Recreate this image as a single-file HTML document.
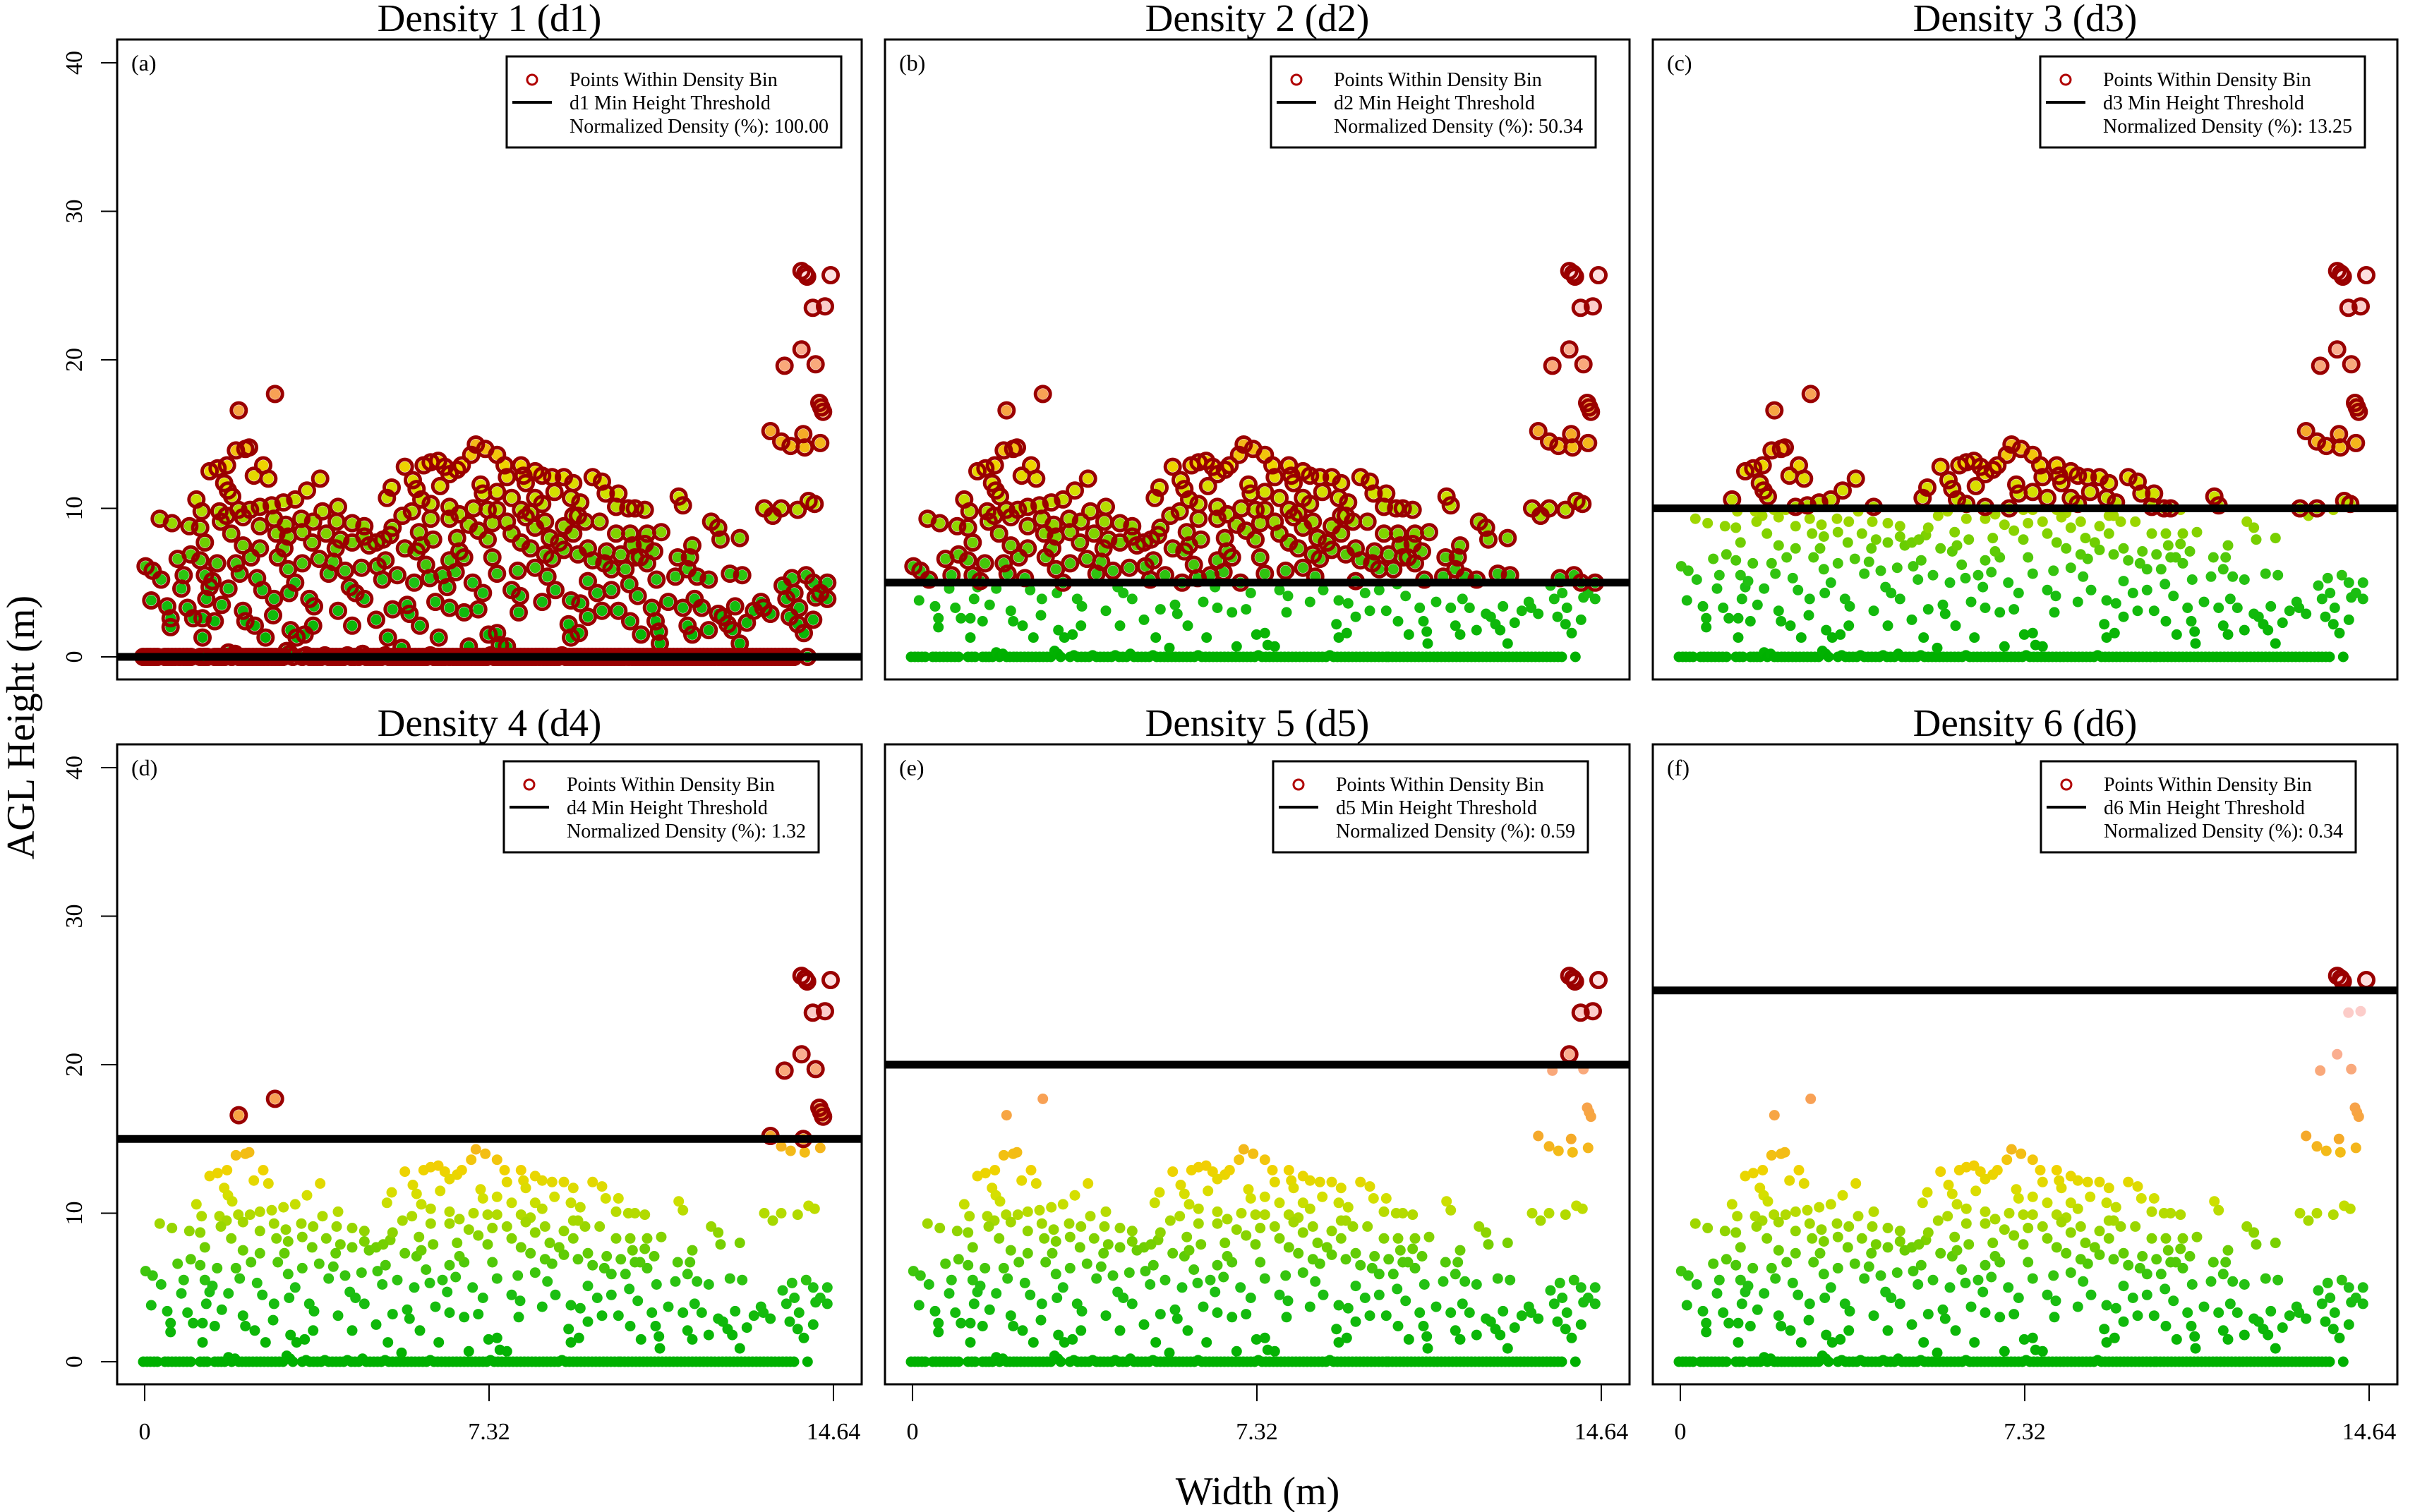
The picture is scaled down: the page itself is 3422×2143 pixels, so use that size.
<!DOCTYPE html>
<html><head><meta charset="utf-8">
<style>
html,body{margin:0;padding:0;background:#fff;}
svg{display:block;font-family:"Liberation Serif",serif;}
</style></head>
<body>
<svg id="chart" width="3422" height="2143" viewBox="0 0 3422 2143" xmlns="http://www.w3.org/2000/svg">
<rect x="0" y="0" width="3422" height="2143" fill="#fff"/>
<text x="0" y="0" transform="translate(48,1031) rotate(-90)" text-anchor="middle" font-size="56" fill="#000">AGL Height (m)</text>
<text x="1782" y="2132" text-anchor="middle" font-size="56" fill="#000">Width (m)</text>
</svg>
<script>
// ---- data ----
var panelTitles = ["Density 1 (d1)","Density 2 (d2)","Density 3 (d3)","Density 4 (d4)","Density 5 (d5)","Density 6 (d6)"];
var panelLetters = ["(a)","(b)","(c)","(d)","(e)","(f)"];
var thresholds = [0,5,10,15,20,25];
var densities = ["100.00","50.34","13.25","1.32","0.59","0.34"];
var yTicks = [0,10,20,30,40];
var xTickLabels = ["0","7.32","14.64"];
var xTickValues = [0,7.32,14.64];
var pointX = [13.96,14.04,14.08,14.58,14.2,14.46,13.96,13.6,14.26,14.34,14.38,14.42,2.0,2.77,13.3,14.0,13.53,13.73,14.03,14.36,13.17,13.35,13.53,13.88,14.11,14.24,
1.94,2.14,2.22,1.38,1.55,1.75,2.52,2.32,2.63,3.73,1.69,1.77,1.86,1.1,1.21,0.32,0.58,0.95,1.18,1.59,1.74,1.99,2.24,2.45,2.7,2.95,3.2,3.45,1.62,2.09,2.45,2.75,3.0,3.33,3.58,3.78,4.11,4.08,4.41,4.67,
0.02,0.17,0.35,0.14,0.48,0.55,0.55,0.7,0.83,0.78,0.91,1.03,1.23,1.23,0.98,1.18,1.28,1.38,1.31,1.49,1.54,1.44,1.64,1.78,1.94,2.02,2.09,2.14,2.26,2.39,2.34,2.5,2.57,2.75,2.73,2.83,2.97,3.05,3.07,3.2,3.1,3.23,3.4,3.35,3.5,3.6,3.58,3.71,3.86,3.91,4.06,4.01,4.11,4.26,4.36,4.41,4.48,4.61,4.67,4.77,4.92,4.95,4.92,5.05,5.12,5.17,5.22,5.27,5.37,5.46,5.53,5.58,5.63,5.73,5.78,5.85,5.98,6.06,6.13,6.18,6.25,6.33,6.43,6.48,6.61,6.64,6.79,6.79,6.89,6.97,7.09,7.19,7.31,7.39,7.49,7.49,7.55,7.7,7.8,7.93,7.95,7.98,8.3,8.45,8.56,8.66,8.73,9.01,9.06,9.06,9.23,9.26,9.42,9.62,9.72,9.77,9.92,10.07,10.22,10.3,10.32,10.48,10.55,10.68,10.78,10.88,10.86,10.93,10.95,11.13,11.28,11.33,11.44,11.54,11.64,11.59,11.69,11.84,11.99,11.74,11.99,12.19,12.29,12.39,12.49,12.44,12.55,12.65,12.7,12.8,12.95,13.1,13.15,13.3,13.56,13.64,13.71,13.76,13.81,13.88,13.91,14.01,14.06,14.21,14.26,14.36,14.21,14.51,14.51,
5.15,5.25,5.53,5.7,5.78,5.93,6.08,6.24,6.38,6.48,6.64,6.74,7.04,6.94,7.24,7.49,7.65,8.0,8.05,8.3,8.45,8.66,8.91,9.11,9.52,9.72,9.8,10.07,10.42,10.63,11.35,11.44,12.04,12.19,12.24,12.65,5.88,6.08,6.28,7.14,7.19,7.49,7.7,7.8,8.1,8.3,8.71,9.06,9.26,6.48,6.99,7.29,7.49,8.0,8.2,8.45,9.11,9.36,10.02,10.28,5.48,5.68,6.08,6.48,6.69,6.89,7.09,7.39,7.7,8.1,8.3,8.51,8.91,9.21,9.67,10.02,10.32,10.68,10.98,
8.0,8.2,8.51,8.61,8.81,8.91,9.11,9.21,9.42,9.52,9.82,10.12,10.37,10.53,10.63,10.83,10.42,11.64,11.54,9.42,9.92,6.69,6.48,7.29,7.8,5.83,5.88,5.07,4.67,5.27,3.05,3.35,2.8,1.84,2.09,1.28,2.45,3.56,4.41,4.16];
var pointH = [25.98,25.8,25.6,25.7,23.5,23.6,20.7,19.6,19.7,17.1,16.8,16.5,16.6,17.7,15.2,15.0,14.5,14.2,14.1,14.4,10.0,9.5,10.0,9.9,10.5,10.3,
13.9,14.0,14.1,12.5,12.7,12.9,12.9,12.2,12.0,12.0,11.7,11.2,10.8,10.6,9.8,9.3,9.0,8.8,8.7,9.8,9.5,9.9,9.9,10.1,10.2,10.4,10.6,11.2,9.1,9.4,8.8,9.3,8.9,9.3,9.1,9.8,10.1,9.1,9.0,8.8,
6.1,5.8,5.2,3.8,3.4,2.6,2.0,6.6,5.5,4.6,3.3,2.6,1.3,2.6,6.9,6.5,5.5,4.7,3.9,2.4,6.3,5.1,3.5,4.6,6.3,5.6,3.1,2.4,6.7,5.3,2.1,4.5,1.3,3.9,2.8,6.7,7.3,5.9,4.3,5.0,1.8,1.3,1.5,6.3,3.9,3.4,2.1,6.6,8.3,5.6,7.3,6.4,3.1,5.8,4.7,2.1,4.3,6.0,3.9,7.5,7.7,6.1,2.5,5.2,6.5,1.3,8.2,3.2,5.5,0.6,7.3,3.5,2.9,5.0,7.1,2.1,6.2,5.3,7.9,3.7,1.3,5.5,4.7,3.3,5.7,8.0,6.7,3.0,0.7,5.0,3.2,4.3,1.5,6.7,5.6,1.6,0.8,0.7,4.5,5.8,3.0,4.1,6.0,3.7,5.4,6.6,4.5,2.2,3.8,1.3,1.6,3.6,2.7,4.3,3.1,6.3,4.5,3.1,5.9,4.9,2.4,4.1,1.5,6.3,3.3,5.2,2.4,1.7,0.9,3.7,5.4,6.7,3.3,2.1,1.5,6.7,3.9,3.3,1.8,5.4,5.2,2.9,2.7,2.2,1.8,5.6,3.4,0.9,5.5,2.3,3.1,3.7,3.3,2.9,4.8,3.9,2.7,5.3,4.3,2.2,3.3,1.6,5.5,5.0,4.0,4.3,2.5,5.0,3.9,
10.7,11.4,12.8,11.9,11.3,12.9,13.1,13.2,12.8,12.3,12.6,12.9,14.3,13.6,14.0,13.6,12.9,12.9,12.2,12.5,12.2,12.1,12.1,11.7,12.1,11.8,11.0,11.0,10.0,9.9,10.8,10.2,9.1,8.7,7.9,8.0,10.6,10.3,11.5,11.6,11.0,11.1,12.1,10.7,11.7,10.7,11.1,10.7,10.4,10.1,10.0,9.9,9.9,9.9,9.7,10.3,9.5,9.1,10.1,10.0,9.5,9.8,9.3,9.3,9.6,8.9,8.5,9.0,9.1,9.4,8.7,9.1,8.8,9.5,9.1,8.3,8.3,8.3,8.4,
7.7,7.3,6.9,8.0,7.7,7.2,8.3,6.9,7.3,6.5,7.1,6.9,7.5,6.7,7.6,7.1,6.7,7.5,5.9,5.1,5.9,7.1,6.5,7.9,8.3,8.4,7.5,7.9,8.1,8.7,8.1,8.4,8.3,8.3,7.5,7.7,7.3,7.7,7.7,7.9];
var groundX = [-0.03,0.05,0.12,0.2,0.27,0.43,0.5,0.58,0.66,0.74,0.82,0.9,0.98,1.18,1.26,1.33,1.49,1.56,1.63,1.7,1.78,1.85,1.92,2.0,2.07,2.15,2.22,2.3,2.38,2.46,2.54,2.62,2.7,2.78,2.86,2.94,3.02,3.09,3.15,3.35,3.43,3.51,3.59,3.67,3.75,3.83,3.91,3.99,4.07,4.15,4.23,4.31,4.39,4.47,4.55,4.63,4.71,4.79,4.87,4.95,5.03,5.11,5.19,5.27,5.35,5.43,5.51,5.59,5.67,5.75,5.83,5.91,5.99,6.07,6.15,6.23,6.31,6.39,6.47,6.55,6.63,6.71,6.79,6.87,6.95,7.03,7.11,7.19,7.27,7.35,7.43,7.51,7.59,7.67,7.75,7.83,7.91,7.99,8.07,8.15,8.23,8.31,8.39,8.47,8.55,8.63,8.71,8.79,8.87,8.95,9.03,9.11,9.19,9.27,9.35,9.43,9.51,9.59,9.67,9.75,9.83,9.91,9.99,10.07,10.12,10.2,10.28,10.36,10.44,10.52,10.6,10.68,10.76,10.84,10.92,11.0,11.08,11.16,11.24,11.32,11.4,11.48,11.56,11.64,11.72,11.8,11.88,11.96,12.04,12.12,12.2,12.28,12.36,12.44,12.52,12.6,12.68,12.76,12.84,12.92,13.0,13.08,13.16,13.24,13.32,13.4,13.48,13.56,13.64,13.72,13.8,14.09];
var groundH = [0,0,0,0,0,0,0,0,0,0,0,0,0,0,0,0,0,0,0,0,0.3,0,0.2,0,0,0,0,0,0,0,0,0,0,0,0,0,0.4,0.2,0,0,0.1,0,0,0,0,0.1,0,0,0,0,0,0.1,0,0,0,0.2,0,0,0,0,0,0.1,0,0,0,0,0,0,0,0,0,0,0,0.1,0,0,0,0,0,0,0,0,0,0,0,0,0,0,0,0.1,0,0,0,0,0,0,0,0,0,0,0,0,0,0,0,0,0,0,0.1,0];

// ---- layout ----
var svgNS = "http://www.w3.org/2000/svg";
var svg = document.getElementById('chart');
var lefts = [166,1254,2342], tops = [56,1055];
var PW = 1055, PH = 907;
var legendGaps = [29,48,46,61,59,59];

function mk(tag, attrs, parent){
  var e = document.createElementNS(svgNS, tag);
  for (var k in attrs) e.setAttribute(k, attrs[k]);
  (parent||svg).appendChild(e);
  return e;
}
var stops = [[0,[0,176,0]],[5,[30,192,20]],[8,[120,208,0]],[11,[210,224,0]],[13,[240,210,0]],[15,[245,170,40]],[18,[248,160,90]],[21,[250,175,150]],[24,[252,210,210]],[27,[255,235,235]]];
function colorFor(h){
  if (h<=stops[0][0]) return 'rgb('+stops[0][1].join(',')+')';
  for (var i=1;i<stops.length;i++){
    if (h<=stops[i][0]){
      var a=stops[i-1], b=stops[i], t=(h-a[0])/(b[0]-a[0]);
      var c=a[1].map(function(v,j){return Math.round(v+(b[1][j]-v)*t);});
      return 'rgb('+c.join(',')+')';
    }
  }
  return 'rgb(255,235,235)';
}

// build the combined point list with aligned x/h
var allX = [], allH = [];
for (var i=0;i<groundX.length;i++){ allX.push(groundX[i]); allH.push(groundH[i]||0); }
var nPts = Math.min(pointX.length, pointH.length);
for (var i=0;i<nPts;i++){ allX.push(pointX[i]); allH.push(pointH[i]); }

for (var p=0;p<6;p++){
  var col=p%3, row=Math.floor(p/3);
  var L=lefts[col], T=tops[row];
  var xS=function(v){return L+39+v/14.64*976;};
  var yS=function(v){return T+875-v*21.05;};
  var g = mk('g',{});
  
  

  var title = mk('text',{x:L+PW/2,y:T-12,'text-anchor':'middle','font-size':55},g);
  title.textContent = panelTitles[p];
  
  

  var clipId='clip'+p;
  var cp = mk('clipPath',{id:clipId},g);
  mk('rect',{x:L,y:T,width:PW,height:PH},cp);
  var pts = mk('g',{'clip-path':'url(#'+clipId+')'},g);
  var thr = thresholds[p];

  for (var i=0;i<allX.length;i++){
    var d = mk('circle',{cx:xS(allX[i]).toFixed(1),cy:yS(allH[i]).toFixed(1),r:7.5,fill:colorFor(allH[i])},pts);
    
    
  }
  for (var i=0;i<allX.length;i++){
    if (allH[i]>=thr){
      var c = mk('circle',{cx:xS(allX[i]).toFixed(1),cy:yS(allH[i]).toFixed(1),r:10.5,fill:'none',stroke:'#9a0000','stroke-width':5},pts);
      
      
    }
  }
  var tl = mk('line',{x1:L,x2:L+PW,y1:yS(thr),y2:yS(thr),stroke:'#000','stroke-width':11},pts);
  
  

  var box = mk('rect',{x:L,y:T,width:PW,height:PH,fill:'none',stroke:'#000','stroke-width':3},g);
  
  

  var lt = mk('text',{x:L+20,y:T+44,'font-size':32},g);
  lt.textContent = panelLetters[p];
  
  

  // legend
  var lg = mk('g',{},g);
  
  
  var lines = ["Points Within Density Bin","d"+(p+1)+" Min Height Threshold","Normalized Density (%): "+densities[p]];
  var texts=[], maxW=0;
  for (var k=0;k<3;k++){
    var t = mk('text',{x:0,y:T+24+42+k*33,'font-size':28},lg);
    t.textContent = lines[k];
    
    
    texts.push(t);
    maxW = Math.max(maxW, t.getComputedTextLength());
  }
  var W = 89 + maxW + 18;
  var R = L+PW-legendGaps[p], LL = R-W, LT = T+24;
  var lb = mk('rect',{x:LL,y:LT,width:W,height:129,fill:'#fff',stroke:'#000','stroke-width':3},lg);
  lg.insertBefore(lb, lg.firstChild);
  texts.forEach(function(t){t.setAttribute('x',LL+89);});
  mk('circle',{cx:LL+36,cy:LT+33,r:7,fill:'none',stroke:'#b00000','stroke-width':3},lg);
  mk('line',{x1:LL+8,x2:LL+64,y1:LT+65,y2:LT+65,stroke:'#000','stroke-width':4},lg);

  // y axis
  if (col===0){
    for (var k=0;k<yTicks.length;k++){
      var yy=yS(yTicks[k]);
      mk('line',{x1:L-23,x2:L,y1:yy,y2:yy,stroke:'#000','stroke-width':2},g);
      var yl = mk('text',{x:0,y:0,transform:'translate('+(L-50)+','+yy+') rotate(-90)','text-anchor':'middle','font-size':34},g);
      yl.textContent = yTicks[k];
      
      
    }
  }
  // x axis
  if (row===1){
    for (var k=0;k<xTickValues.length;k++){
      var xx=xS(xTickValues[k]);
      mk('line',{x1:xx,x2:xx,y1:T+PH,y2:T+PH+24,stroke:'#000','stroke-width':2},g);
      var xl = mk('text',{x:xx,y:T+PH+78,'text-anchor':'middle','font-size':34},g);
      xl.textContent = xTickLabels[k];
      
      
    }
  }
}
</script>
</body></html>
